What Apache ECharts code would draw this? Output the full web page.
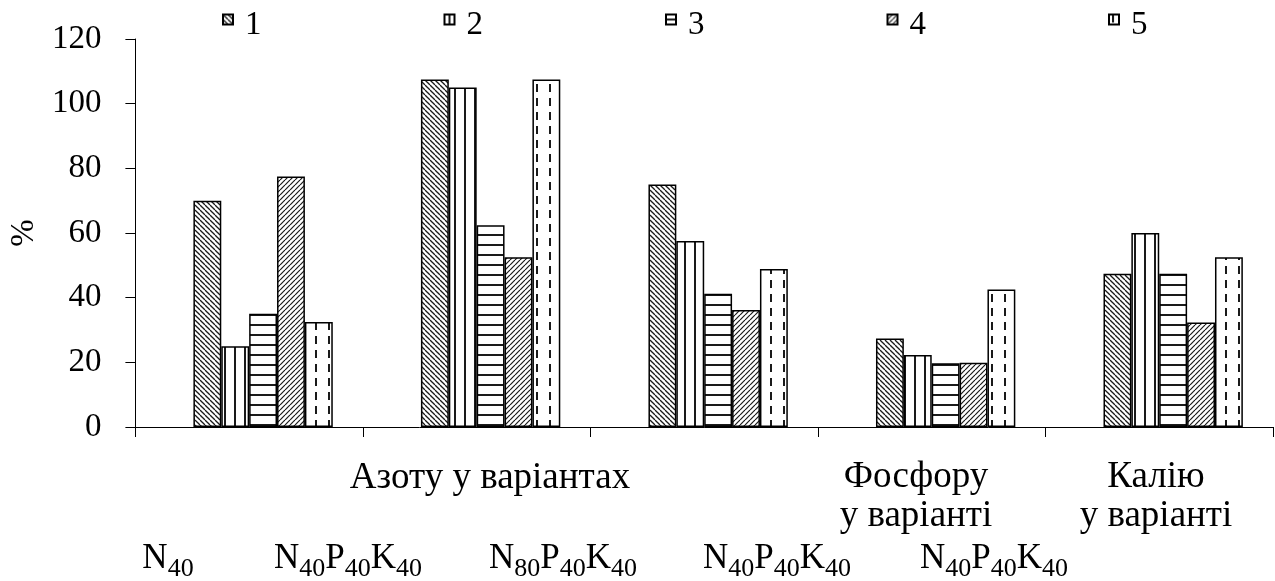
<!DOCTYPE html>
<html><head><meta charset="utf-8">
<script src="https://cdn.jsdelivr.net/npm/echarts@6/dist/echarts.min.js"></script>
<style>html,body{margin:0;padding:0;background:#fff}#c{width:1275px;height:581px}</style>
</head><body><div id="c"></div>
<script>
// ---- data ----
const categories = ['N40', 'N40P40K40', 'N80P40K40', 'N40P40K40', 'N40P40K40'];
const groupLabels = ['Азоту у варіантах', 'Фосфору\nу варіанті', 'Калію\nу варіанті'];
const seriesNames = ['1', '2', '3', '4', '5'];
const s1 = [70, 107.5, 75, 27.4, 47.4];
const s2 = [25, 105, 57.5, 22.3, 60];
const s3 = [35, 62.4, 41.2, 19.7, 47.4];
const s4 = [77.5, 52.5, 36.2, 19.9, 32.3];
const s5 = [32.5, 107.5, 48.9, 42.5, 52.5];
const spacer = [null, null, null, null, null]; // empty slot: the original groups sit right of centre
const yMin = 0, yMax = 120, yStep = 20;

// ---- layout (not data) ----
const FONT = "'Liberation Serif', 'Times New Roman', serif";
const catLabelPos = [[168, 541], [348, 541], [563, 541], [777, 541], [994, 541]];
const groupLabelPos = [[490, 478], [916, 497], [1156, 497]];

function pattern(kind) {
  const c = document.createElement('canvas');
  const ctx = c.getContext('2d');
  let w, h;
  if (kind === 'back' || kind === 'fwd') { w = h = 5; }
  else if (kind === 'vert') { w = 10; h = 4; }
  else if (kind === 'horiz') { w = 4; h = 10; }
  else { w = 13; h = 14; }
  c.width = w; c.height = h;
  ctx.fillStyle = '#fff'; ctx.fillRect(0, 0, w, h);
  ctx.strokeStyle = '#1a1a1a';
  if (kind === 'back') {
    ctx.lineWidth = 1.3;
    for (let o = -w; o <= w; o += w) { ctx.beginPath(); ctx.moveTo(o, 0); ctx.lineTo(o + w, h); ctx.stroke(); }
  } else if (kind === 'fwd') {
    ctx.lineWidth = 1.2;
    for (let o = -w; o <= w; o += w) { ctx.beginPath(); ctx.moveTo(o + w, 0); ctx.lineTo(o, h); ctx.stroke(); }
  } else if (kind === 'vert') {
    ctx.lineWidth = 2; ctx.beginPath(); ctx.moveTo(5, 0); ctx.lineTo(5, h); ctx.stroke();
  } else if (kind === 'horiz') {
    ctx.lineWidth = 2; ctx.beginPath(); ctx.moveTo(0, 5); ctx.lineTo(w, 5); ctx.stroke();
  } else {
    ctx.lineWidth = 2; ctx.beginPath(); ctx.moveTo(4, 0); ctx.lineTo(4, 8); ctx.stroke();
  }
  return { image: c, repeat: 'repeat' };
}
const fills = [pattern('back'), pattern('vert'), pattern('horiz'), pattern('fwd'), pattern('dash')];
const values = [s1, s2, s3, s4, s5];

function richName(t) {
  return t.replace(/([A-Z])(\d+)/g, '{n|$1}{s|$2}');
}
const rich = {
  n: { fontFamily: FONT, fontSize: 35, lineHeight: 40, verticalAlign: 'top', fill: '#000' },
  s: { fontFamily: FONT, fontSize: 26, lineHeight: 26, padding: [15, 0, 0, 0], verticalAlign: 'top', fill: '#000' }
};

const graphics = [];
categories.forEach((t, i) => {
  graphics.push({ type: 'text', x: catLabelPos[i][0], y: catLabelPos[i][1],
    style: { text: richName(t), rich: rich, align: 'center', verticalAlign: 'top' } });
});
groupLabels.forEach((t, i) => {
  graphics.push({ type: 'text', x: groupLabelPos[i][0], y: groupLabelPos[i][1],
    style: { text: t, font: '37px ' + FONT, fill: '#000', lineHeight: 39, align: 'center', verticalAlign: 'middle' } });
});

const barStyle = { barGap: '0%', barCategoryGap: '26.5%' };
const chart = echarts.init(document.getElementById('c'), null, { renderer: 'canvas' });
chart.setOption({
  animation: false,
  backgroundColor: '#fff',
  grid: { left: 126, right: 2, top: 39, bottom: 154 },
  legend: {
    data: seriesNames, left: 217, top: -8, icon: 'rect', itemWidth: 10, itemHeight: 10, itemGap: 182,
    formatter: '{t|{name}}',
    textStyle: {
      fontFamily: FONT, fontSize: 33, color: '#000',
      rich: { t: { fontFamily: FONT, fontSize: 33, lineHeight: 36, color: '#000', padding: [12, 0, 0, 7] } }
    }
  },
  xAxis: {
    type: 'category', data: categories,
    axisLine: { lineStyle: { color: '#000', width: 1 } },
    axisTick: { show: true, length: 10, lineStyle: { color: '#000' } },
    axisLabel: { show: false }
  },
  yAxis: {
    type: 'value', min: yMin, max: yMax, interval: yStep,
    name: '%', nameLocation: 'middle', nameGap: 90, nameRotate: 90,
    nameTextStyle: { fontFamily: FONT, fontSize: 33, color: '#000' },
    axisLine: { show: true, lineStyle: { color: '#000', width: 1 } },
    axisTick: { show: true, length: 10, lineStyle: { color: '#000' } },
    axisLabel: { fontFamily: FONT, fontSize: 33, color: '#000', margin: 34 },
    splitLine: { show: false }
  },
  graphic: graphics,
  series: [{ name: 'spacer', type: 'bar', data: spacer, silent: true, ...barStyle }].concat(
    seriesNames.map((n, i) => Object.assign({
      name: n, type: 'bar', data: values[i],
      itemStyle: { color: fills[i], borderColor: '#000', borderWidth: 1.5 }
    }, barStyle)))
});
</script>
</body></html>
